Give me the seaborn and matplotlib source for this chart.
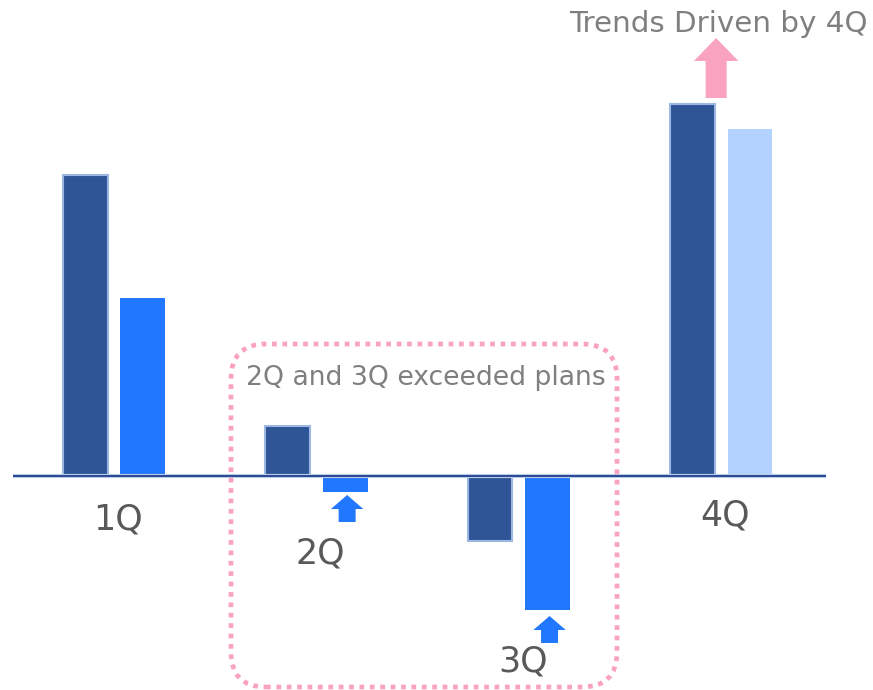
import matplotlib
matplotlib.use("Agg")
import matplotlib.pyplot as plt
from matplotlib.patches import FancyArrow, FancyBboxPatch
import seaborn as sns
import pandas as pd

quarters = ["1Q", "2Q", "3Q", "4Q"]
plan = [30.1, 5.0, -6.5, 37.2]
actual = [17.8, -1.6, -13.4, 34.7]
series_names = ["plan", "actual"]
title_text = "Trends Driven by 4Q"
box_text = "2Q and 3Q exceeded plans"

DARK = "#2F5597"
BLUE = "#2277FF"
LIGHT = "#B4D2FF"
PINK = "#F9A3C0"
GRAY = "#7F7F7F"
LABEL_GRAY = "#595959"

df = pd.DataFrame({
    "quarter": quarters * 2,
    "series": [series_names[0]] * 4 + [series_names[1]] * 4,
    "value": plan + actual,
})

sns.set_theme(style="white")
plt.rcParams["font.family"] = ["DejaVu Sans"]

fig = plt.figure(figsize=(8.73, 6.90), dpi=100)
ax = fig.add_axes([0, 0, 1, 1])

sns.barplot(data=df, x="quarter", y="value", hue="series", order=quarters,
            hue_order=series_names, palette=[DARK, BLUE], width=0.568, gap=0.22,
            errorbar=None, legend=False, ax=ax, saturation=1)

for p in ax.patches:
    cx = p.get_x() + p.get_width() / 2
    qi = int(round(cx))
    if cx < qi:
        p.set_facecolor(DARK)
        p.set_edgecolor("#9DB8E0")
        p.set_linewidth(1.5)
    else:
        p.set_facecolor(LIGHT if quarters[qi] == "4Q" else BLUE)
        p.set_linewidth(0)

ax.hlines(0, -0.5, 3.52, color="#B8CCEB", linewidth=3.0, zorder=3)
ax.hlines(0, -0.5, 3.52, color="#1F3D8A", linewidth=1.3, zorder=4)

ax.set_xlim(-0.563, 3.750)
ax.set_ylim(-21.4, 47.6)
ax.axis("off")

# quarter labels
label_pos = {"1Q": -4.4, "2Q": -7.7, "3Q": -18.6, "4Q": -4.0}
for i, q in enumerate(quarters):
    ax.text(i + 0.02, label_pos[q], q, ha="center", va="center",
            fontsize=25, color=LABEL_GRAY)

# arrows
def up_arrow(x, y0, y1, w, hw, hl, color):
    ax.add_patch(FancyArrow(x, y0, 0, y1 - y0, width=w, head_width=hw,
                            head_length=hl, length_includes_head=True,
                            color=color, linewidth=0, zorder=5))

up_arrow(1.152, -4.6, -1.9, 0.084, 0.16, 1.4, BLUE)
up_arrow(2.152, -16.7, -14.0, 0.084, 0.16, 1.4, BLUE)
up_arrow(2.975, 37.8, 43.8, 0.104, 0.22, 2.3, PINK)

ax.text(868 / 873, 1 - 24 / 690, title_text, transform=ax.transAxes,
        ha="right", va="center", fontsize=21.2, color=GRAY)
ax.text(426 / 873, 1 - 378 / 690, box_text, transform=ax.transAxes,
        ha="center", va="center", fontsize=19.2, color=GRAY)

box = FancyBboxPatch((2.31, 0.03), 3.86, 3.43,
                     boxstyle="round,pad=0,rounding_size=0.35",
                     transform=fig.dpi_scale_trans, fill=False,
                     edgecolor=PINK, linewidth=3.4,
                     linestyle=(0, (1, 1.2)), zorder=6)
box.set_capstyle("butt")
fig.patches.append(box)

fig.savefig("out.png", dpi=100)
